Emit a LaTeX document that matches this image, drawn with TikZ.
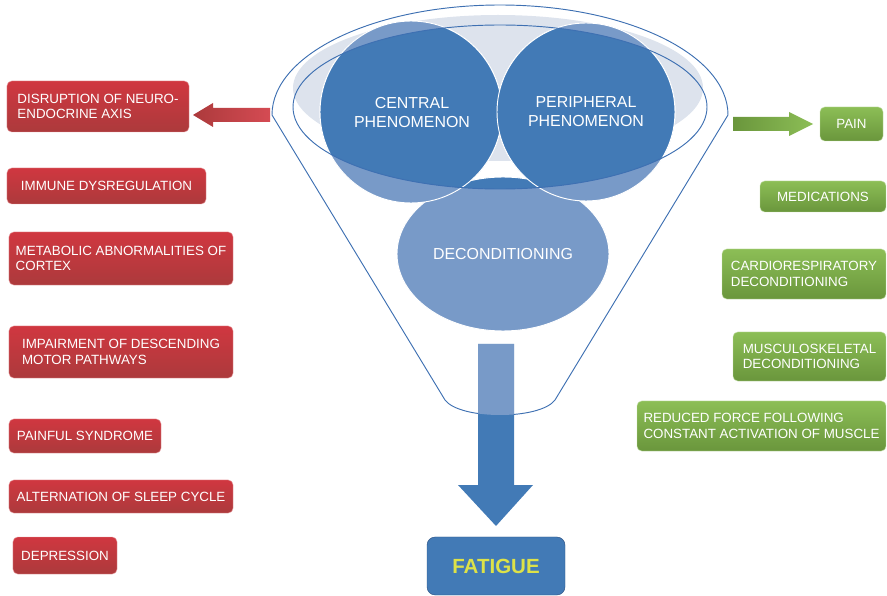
\documentclass[tikz,border=0pt]{standalone}
\usepackage{fontspec}
\setmainfont{Liberation Sans}
\usepackage{tikz}
\usetikzlibrary{positioning}
\definecolor{redtop}{RGB}{208,55,64}
\definecolor{redbottom}{RGB}{172,58,60}
\definecolor{greentop}{RGB}{140,190,86}
\definecolor{greenbottom}{RGB}{106,150,60}
\definecolor{darkblue}{RGB}{66,122,182}
\definecolor{lightblue}{RGB}{120,154,200}
\definecolor{paleblue}{RGB}{221,227,237}
\definecolor{rimblue}{RGB}{62,112,178}
\definecolor{fatiguetext}{RGB}{221,226,72}
\hyphenpenalty=10000

% the three overlapping blobs inside the funnel
\newcommand{\drawblobs}[1]{%
    \filldraw[blob, fill=#1] (503,254) ellipse[x radius=106, y radius=77];
    \filldraw[blob, fill=#1] (411,112) circle[radius=91];
    \filldraw[blob, fill=#1] (586,112) circle[radius=89];
}

\begin{document}
\begin{tikzpicture}[
    x=0.03cm, y=-0.03cm,
    tagbox/.style={rounded corners=4pt, inner sep=0pt, line width=0.4pt, align=left, text=white, font=\fontsize{11.4}{13.3}\selectfont},
    redbox/.style={tagbox, top color=redtop, bottom color=redbottom, draw=redtop!50!white},
    greenbox/.style={tagbox, top color=greentop, bottom color=greenbottom, draw=greentop!50!white},
    blob/.style={draw=white, line width=0.8pt},
    rim/.style={draw=rimblue, line width=0.8pt},
    blobtext/.style={text=white, font=\fontsize{13.6}{16.2}\selectfont, align=center}
]
    \useasboundingbox (0,0) rectangle (887,596);

    % Funnel
    \fill[paleblue] (498,88) ellipse[x radius=205, y radius=73];
    \drawblobs{lightblue}
    \begin{scope}
        \clip (500,107) ellipse[x radius=207, y radius=82];
        \drawblobs{darkblue}
    \end{scope}
    \draw[rim] (500,107) ellipse[x radius=207, y radius=82];
    \path[save path=\funnelpath] (445,400) -- (272,115)
        arc[start angle=180, end angle=360, x radius=228, y radius=110]
        -- (555,400) .. controls (540,420) and (460,420) .. cycle;
    \draw[rim, use path=\funnelpath];

    % Down arrow
    \fill[darkblue] (478,344) -- (514,344) -- (514,485) -- (533,485) -- (496,526)
        -- (458,485) -- (478,485) -- cycle;
    \begin{scope}
        \clip[use path=\funnelpath];
        \fill[lightblue] (478,344) rectangle (514,430);
    \end{scope}

    \node[blobtext] (central) at (412,113) {CENTRAL\\PHENOMENON};
    \node[blobtext] (peripheral) at (586,112) {PERIPHERAL\\PHENOMENON};
    \node[blobtext] (decond) at (503,254) {DECONDITIONING};

    % Side arrows
    \shade[left color=redbottom, right color=redtop!90!white] (193,115) -- (213,103) -- (213,108)
        -- (270,108) -- (270,122) -- (213,122) -- (213,127) -- cycle;
    \shade[left color=greenbottom, right color=greentop] (733,117) -- (789,117) -- (789,112)
        -- (813,124) -- (789,136) -- (789,131) -- (733,131) -- cycle;

    % Central causes
    \node[redbox, minimum width=5.46cm, minimum height=1.53cm] (disrupt) at (98,106.5) {DISRUPTION OF NEURO-\\ENDOCRINE AXIS};
    \node[redbox, minimum width=5.97cm, minimum height=1.08cm] (immune) at (106.5,186) {IMMUNE DYSREGULATION};
    \node[redbox, minimum width=6.72cm, minimum height=1.59cm] (metabolic) at (121,258.5) {METABOLIC ABNORMALITIES OF\\CORTEX};
    \node[redbox, minimum width=6.72cm, minimum height=1.56cm] (impair) at (121,352) {IMPAIRMENT OF DESCENDING\\MOTOR PATHWAYS};
    \node[redbox, minimum width=4.56cm, minimum height=1.02cm] (painful) at (85,436) {PAINFUL SYNDROME};
    \node[redbox, minimum width=6.72cm, minimum height=0.99cm] (sleep) at (121,496.5) {ALTERNATION OF SLEEP CYCLE};
    \node[redbox, minimum width=3.12cm, minimum height=1.11cm] (depress) at (65,555.5) {DEPRESSION};

    % Peripheral causes
    \node[greenbox, minimum width=1.89cm, minimum height=1.02cm] (pain) at (851.5,124) {PAIN};
    \node[greenbox, minimum width=3.78cm, minimum height=0.93cm] (meds) at (823,196.5) {MEDICATIONS};
    \node[greenbox, minimum width=4.92cm, minimum height=1.5cm] (cardio) at (804,274) {CARDIORESPIRATORY\\DECONDITIONING};
    \node[greenbox, minimum width=4.59cm, minimum height=1.47cm] (musculo) at (809.5,356.5) {MUSCULOSKELETAL\\DECONDITIONING};
    \node[greenbox, minimum width=7.47cm, minimum height=1.5cm] (reduced) at (761.5,426) {REDUCED FORCE FOLLOWING\\CONSTANT ACTIVATION OF MUSCLE};

    % Outcome
    \node[draw=rimblue!75!black, fill=darkblue, rounded corners=7pt, minimum width=4.14cm, minimum height=1.74cm,
        text=fatiguetext, font=\fontsize{17.5}{20}\selectfont\bfseries] (fatigue) at (496,566) {FATIGUE};
\end{tikzpicture}
\end{document}
